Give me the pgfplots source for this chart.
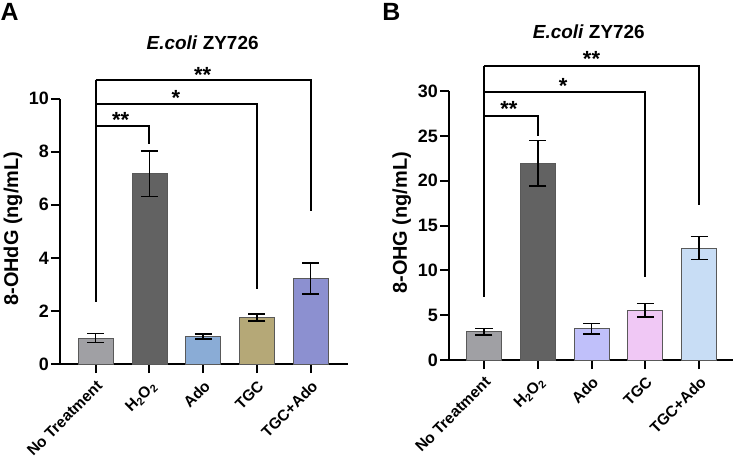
\documentclass[border=0pt]{standalone}
\usepackage{fontspec}
\setmainfont{Liberation Sans}
\usepackage{pgfplots}
\pgfplotsset{compat=1.18}

\definecolor{ntgray}{HTML}{A0A0A4}
\definecolor{hgray}{HTML}{626262}
\definecolor{adoblue}{HTML}{8AACD6}
\definecolor{tgckhaki}{HTML}{B5A877}
\definecolor{comboviolet}{HTML}{8C90D0}
\definecolor{adolav}{HTML}{C0C0FA}
\definecolor{tgcpink}{HTML}{F0C8F5}
\definecolor{combosky}{HTML}{C8DDF5}

\pgfplotsset{
  panel/.style={
    scale only axis, clip=false,
    axis x line*=bottom, axis y line*=left,
    axis line style={line width=2bp,-},
    tick align=outside, major tick length=9bp,
    every tick/.style={black, line width=2bp},
    xtick={0,...,4},
    xticklabels={No Treatment, H\textsubscript{2}O\textsubscript{2}, Ado, TGC, TGC+Ado},
    xticklabel style={rotate=45, anchor=north east, inner sep=0.5bp,
      xshift=-4bp, yshift=-4bp,
      font=\bfseries\fontsize{15.5}{15.5}\selectfont},
    yticklabel style={inner sep=2bp, font=\bfseries\fontsize{18}{18}\selectfont},
    /pgf/number format/assume math mode=true,
    ylabel style={anchor=center, font=\bfseries\fontsize{20}{20}\selectfont},
    ymin=0,
  },
  bar/.style={ybar, bar shift=0pt, bar width=35bp, draw=black!65,
    line width=0.8bp, fill=#1,
    error bars/.cd, y dir=both, y explicit,
    error bar style={black, line width=1.6bp},
    error mark options={rotate=90, black, line width=1.6bp, mark size=8.5bp}},
  bracket/.style={black, line width=2bp, mark=none, forget plot},
}
\tikzset{
  stars/.style={font=\bfseries\fontsize{22}{22}\selectfont, yshift=-4.5bp},
  ttl/.style={font=\bfseries\fontsize{19}{19}\selectfont},
}

\begin{document}
\begin{tikzpicture}
\path[use as bounding box] (0,0) rectangle (737bp,-463bp);

% panel A
\begin{axis}[panel, at={(60bp,-364bp)}, anchor=south west,
    width=288.3bp, height=265.3bp,
    xmin=-0.664, xmax=4.70, ymax=10, ytick={0,2,...,10},
    ylabel={8-OHdG (ng/mL)},
    ylabel style={at={(axis description cs:-0.163,0.51)}}]
  \addplot[bar=ntgray] coordinates {(0,0.98) +- (0,0.17)};
  \addplot[bar=hgray] coordinates {(1,7.18) +- (0,0.86)};
  \addplot[bar=adoblue] coordinates {(2,1.04) +- (0,0.10)};
  \addplot[bar=tgckhaki] coordinates {(3,1.75) +- (0,0.14)};
  \addplot[bar=comboviolet] coordinates {(4,3.23) +- (0,0.58)};
  \addplot[bracket] coordinates {(0,2.35) (0,10.69)};
  \addplot[bracket] coordinates {(0,8.6) (0,8.96) (1,8.96) (1,8.29)};
  \addplot[bracket] coordinates {(0,9.8) (3,9.8) (3,2.84)};
  \addplot[bracket] coordinates {(0,10.69) (4,10.69) (4,5.78)};
  \node[stars] at (axis cs:0.465,9.35) {**};
  \node[stars] at (axis cs:1.49,10.21) {*};
  \node[stars] at (axis cs:1.99,11.08) {**};
  \node[ttl] at (axis cs:1.99,12.1) {\textit{E.coli} ZY726};
\end{axis}

% panel B
\begin{axis}[panel, at={(449bp,-360bp)}, anchor=south west,
    width=284.3bp, height=269bp,
    xmin=-0.651, xmax=4.638, ymax=30, ytick={0,5,...,30},
    ylabel={8-OHG (ng/mL)},
    ylabel style={at={(axis description cs:-0.166,0.51)}}]
  \addplot[bar=ntgray] coordinates {(0,3.15) +- (0,0.37)};
  \addplot[bar=hgray] coordinates {(1,21.95) +- (0,2.53)};
  \addplot[bar=adolav] coordinates {(2,3.5) +- (0,0.57)};
  \addplot[bar=tgcpink] coordinates {(3,5.55) +- (0,0.74)};
  \addplot[bar=combosky] coordinates {(4,12.5) +- (0,1.27)};
  \addplot[bracket] coordinates {(0,7.06) (0,32.8)};
  \addplot[bracket] coordinates {(0,26.2) (0,27.2) (1,27.2) (1,25.0)};
  \addplot[bracket] coordinates {(0,29.85) (3,29.85) (3,9.3)};
  \addplot[bracket] coordinates {(0,32.8) (4,32.8) (4,17.3)};
  \node[stars] at (axis cs:0.465,28.55) {**};
  \node[stars] at (axis cs:1.47,31.1) {*};
  \node[stars] at (axis cs:2.0,34.1) {**};
  \node[ttl] at (axis cs:1.95,36.6) {\textit{E.coli} ZY726};
\end{axis}

\node[font=\bfseries\fontsize{25}{25}\selectfont] at (9.7bp,-11.7bp) {A};
\node[font=\bfseries\fontsize{25}{25}\selectfont] at (391.3bp,-12.2bp) {B};
\end{tikzpicture}
\end{document}
